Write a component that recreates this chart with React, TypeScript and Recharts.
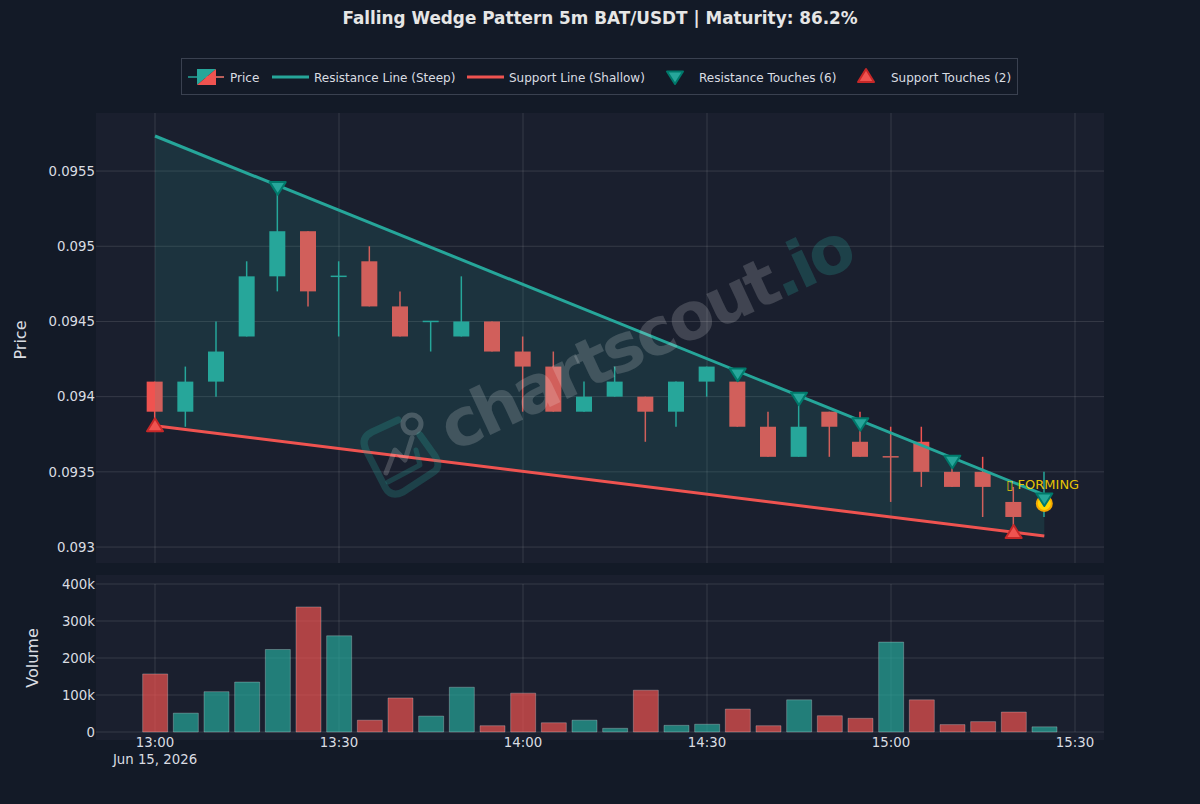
import React from 'react';
import { ComposedChart, Bar, Line, Area, Scatter, XAxis, YAxis, CartesianGrid, Cell, Label } from 'recharts';

const minutes = [0,5,10,15,20,25,30,35,40,45,50,55,60,65,70,75,80,85,90,95,100,105,110,115,120,125,130,135,140,145];
const opens = [0.0941,0.0939,0.0941,0.0944,0.0948,0.0951,0.0948,0.0949,0.0946,0.0945,0.0944,0.0945,0.0943,0.0942,0.0939,0.094,0.094,0.0939,0.0941,0.0941,0.0938,0.0936,0.0939,0.0937,0.0936,0.0937,0.0935,0.0935,0.0933,0.0933];
const highs = [0.0941,0.0942,0.0945,0.0949,0.0954,0.0951,0.0949,0.095,0.0947,0.0945,0.0948,0.0945,0.0944,0.0943,0.0941,0.0942,0.094,0.0941,0.0942,0.0941,0.0939,0.094,0.0939,0.0939,0.0938,0.0938,0.0936,0.0936,0.0934,0.0935];
const lows = [0.0938,0.0938,0.094,0.0944,0.0947,0.0946,0.0944,0.0946,0.0944,0.0943,0.0944,0.0943,0.0939,0.0939,0.0939,0.094,0.0937,0.0938,0.094,0.0938,0.0936,0.0936,0.0936,0.0936,0.0933,0.0934,0.0934,0.0932,0.0931,0.0932];
const closes = [0.0939,0.0941,0.0943,0.0948,0.0951,0.0947,0.0948,0.0946,0.0944,0.0945,0.0945,0.0943,0.0942,0.0939,0.094,0.0941,0.0939,0.0941,0.0942,0.0938,0.0936,0.0938,0.0938,0.0936,0.0936,0.0935,0.0934,0.0934,0.0932,0.0933];
const candleUp = [0,1,1,1,1,0,1,0,0,1,1,0,0,0,1,1,0,1,1,0,0,1,0,0,0,0,0,0,0,1];
const volumes = [157000,51000,109000,135000,223000,338000,260000,32000,92000,43000,121000,17000,105000,25000,32000,10000,113000,18000,21000,62000,17000,87000,44000,37000,243000,87000,20000,28000,54000,14000];
const volumeUp = [0,1,1,1,1,0,1,0,0,1,1,0,0,0,1,1,0,1,1,0,0,1,0,0,1,0,0,0,0,1];

const resistanceLine = [{ t: 0, price: 0.095733 }, { t: 145, price: 0.093347 }];
const supportLine = [{ t: 0, price: 0.093807 }, { t: 145, price: 0.093073 }];
const wedgeBand = [{ t: 0, band: [0.093807, 0.095733] }, { t: 145, band: [0.093073, 0.093347] }];
const resistanceTouches = [{ t: 20, price: 0.09539 }, { t: 95, price: 0.09415 }, { t: 105, price: 0.09399 }, { t: 115, price: 0.09382 }, { t: 130, price: 0.09357 }, { t: 145, price: 0.09332 }];
const supportTouches = [{ t: 0, price: 0.09381 }, { t: 140, price: 0.0931 }];
const formingPoint = [{ t: 145, price: 0.09329 }];

const priceTicks = [0.093, 0.0935, 0.094, 0.0945, 0.095, 0.0955];
const volumeTicks = [0, 100000, 200000, 300000, 400000];
const timeTicks = [0, 30, 60, 90, 120, 150];
const timeLabels = ['13:00', '13:30', '14:00', '14:30', '15:00', '15:30'];
const chartTitle = 'Falling Wedge Pattern 5m BAT/USDT | Maturity: 86.2%';
const dateLabel = 'Jun 15, 2026';
const formingLabel = '\u25AF FORMING';

const candles = minutes.map((t, i) => ({ t, open: opens[i], high: highs[i], low: lows[i], close: closes[i], up: candleUp[i] }));
const volumeRows = minutes.map((t, i) => ({ t, volume: volumes[i], up: volumeUp[i] }));

const TEAL = '#26a69a';
const RED = '#ef5350';
const FONT = '"DejaVu Sans", sans-serif';
const TEXT = '#dadde2';
const GRID = 'rgba(255,255,255,0.12)';
const X_DOMAIN: [number, number] = [-9.62, 154.73];

const CandleShape = (p: any) => {
  const { x, y, width, height, payload } = p;
  const k = height / (payload.high - payload.low);
  const top = y + (payload.high - Math.max(payload.open, payload.close)) * k;
  const bottom = y + (payload.high - Math.min(payload.open, payload.close)) * k;
  const c = payload.up ? TEAL : RED;
  const cx = x + width / 2;
  return (
    <g>
      <line x1={cx} x2={cx} y1={y} y2={y + height} stroke={c} strokeWidth={1.5} />
      {bottom - top < 0.5
        ? <line x1={x} x2={x + width} y1={top} y2={top} stroke={c} strokeWidth={1.5} />
        : <rect x={x} y={top} width={width} height={bottom - top} fill={c} />}
    </g>
  );
};

const DownMark = (p: any) => (
  <path d={`M${p.cx - 8},${p.cy - 5.5} L${p.cx + 8},${p.cy - 5.5} L${p.cx},${p.cy + 7} Z`} fill={TEAL} stroke="#00796b" strokeWidth={2} strokeLinejoin="round" />
);
const UpMark = (p: any) => (
  <path d={`M${p.cx - 8},${p.cy + 6} L${p.cx + 8},${p.cy + 6} L${p.cx},${p.cy - 7} Z`} fill={RED} stroke="#c62828" strokeWidth={2} strokeLinejoin="round" />
);
const FormingMark = (p: any) => (
  <g>
    <circle cx={p.cx} cy={p.cy} r={7.5} fill="#ffd700" stroke="#f5a800" strokeWidth={2} />
    <text x={p.cx - 38} y={p.cy - 14} fill="#ffd700" fillOpacity={0.9} fontSize={13} fontFamily={FONT}>{formingLabel}</text>
  </g>
);

const trimPrice = (v: number) => String(Number(v.toFixed(4)));
const volFmt = (v: number) => (v === 0 ? '0' : `${v / 1000}k`);

const TimeTick = (p: any) => {
  const idx = timeTicks.indexOf(p.payload.value);
  return (
    <g>
      <text x={p.x} y={747} textAnchor="middle" fontSize={13.3} fontFamily={FONT} fill={TEXT}>{timeLabels[idx]}</text>
      {idx === 0 && <text x={p.x} y={764} textAnchor="middle" fontSize={13.3} fontFamily={FONT} fill={TEXT}>{dateLabel}</text>}
    </g>
  );
};

const LegendBox = () => {
  const ts = { fontSize: 12, fontFamily: FONT, fill: TEXT };
  return (
    <svg width={1200} height={110} style={{ position: 'absolute', left: 0, top: 0 }}>
      <rect x={181.5} y={58.5} width={836} height={36} fill="none" stroke="#3a4150" />
      <line x1={188} x2={224} y1={77} y2={77} stroke={TEAL} strokeWidth={1.5} />
      <line x1={206} x2={224} y1={77} y2={77} stroke={RED} strokeWidth={1.5} />
      <path d="M197,69 H216 L197,85 Z" fill={TEAL} />
      <path d="M216,69 V85 H197 Z" fill={RED} />
      <text x={230} y={82} {...ts}>Price</text>
      <line x1={272} x2={309} y1={77} y2={77} stroke={TEAL} strokeWidth={3} />
      <text x={314} y={82} {...ts}>Resistance Line (Steep)</text>
      <line x1={467} x2={504} y1={77} y2={77} stroke={RED} strokeWidth={3} />
      <text x={509} y={82} {...ts}>Support Line (Shallow)</text>
      <DownMark cx={675} cy={77} />
      <text x={699} y={82} {...ts}>Resistance Touches (6)</text>
      <UpMark cx={866} cy={76} />
      <text x={891} y={82} {...ts}>Support Touches (2)</text>
    </svg>
  );
};

const Watermark = () => (
  <svg width={1200} height={804} style={{ position: 'absolute', left: 0, top: 0, pointerEvents: 'none' }}>
    <g transform="rotate(-25 655 358)">
      <text x={655} y={358} textAnchor="middle" fontFamily={FONT} fontWeight={700} fontSize={66} letterSpacing={-3.4}>
        <tspan fill="rgba(255,255,255,0.17)">chartscout</tspan>
        <tspan fill="rgba(38,166,154,0.25)">.io</tspan>
      </text>
    </g>
    <g fill="none" strokeLinecap="round" strokeLinejoin="round">
      <path d="M398,420 L372,432 Q360,438 366,450 L385,487 Q391,498 403,492 L432,473 Q442,468 435,456 L420,435" stroke="rgba(38,166,154,0.25)" strokeWidth={7} />
      <circle cx={412} cy={424} r={9} stroke="rgba(255,255,255,0.2)" strokeWidth={5} />
      <path d="M386,473 L395,450 L405,460 L412,438" stroke="rgba(255,255,255,0.18)" strokeWidth={5} />
      <path d="M388,482 L420,465 L416,450" stroke="rgba(38,166,154,0.25)" strokeWidth={5} />
    </g>
  </svg>
);

const panel = (top: number, height: number) => (
  <div style={{ position: 'absolute', left: 96, top, width: 1008, height, background: '#1a1f2e' }} />
);

export default function App() {
  return (
    <div style={{ position: 'absolute', left: 0, top: 0, width: 1200, height: 804, background: '#131a27', overflow: 'hidden' }}>
      {panel(113, 450)}
      {panel(575, 165)}
      <div style={{ position: 'absolute', left: 0, top: 8, width: 1200, textAlign: 'center', fontFamily: FONT, fontWeight: 700, fontSize: 16.83, color: '#e6e6e6', lineHeight: '20px' }}>{chartTitle}</div>
      <LegendBox />
      <div style={{ position: 'absolute', left: 0, top: 0 }}>
        <ComposedChart width={1200} height={575} data={candles} margin={{ top: 113, right: 96, bottom: 12, left: 0 }}>
          <CartesianGrid stroke={GRID} syncWithTicks />
          <XAxis type="number" dataKey="t" domain={X_DOMAIN} ticks={timeTicks} hide allowDataOverflow />
          <YAxis type="number" dataKey="price" domain={[0.092894, 0.095886]} ticks={priceTicks} width={96} axisLine={false} tickLine={false} tickSize={0} tickFormatter={trimPrice} tick={{ fill: TEXT, fontSize: 13.3, fontFamily: FONT }} tickMargin={1} allowDataOverflow>
            <Label value="Price" angle={-90} position="insideLeft" offset={20} dy={2} style={{ fill: TEXT, fontSize: 16, fontFamily: FONT, textAnchor: 'middle' }} />
          </YAxis>
          <Bar dataKey={(d: any) => [d.low, d.high]} barSize={16} shape={CandleShape} isAnimationActive={false} zIndex={200} />
          <Area data={wedgeBand} dataKey="band" type="linear" fill={TEAL} fillOpacity={0.15} stroke="none" isAnimationActive={false} zIndex={300} />
          <Line data={resistanceLine} dataKey="price" type="linear" stroke={TEAL} strokeWidth={3} dot={false} isAnimationActive={false} zIndex={400} />
          <Line data={supportLine} dataKey="price" type="linear" stroke={RED} strokeWidth={3} dot={false} isAnimationActive={false} zIndex={400} />
          <Scatter data={formingPoint} dataKey="price" shape={FormingMark} isAnimationActive={false} zIndex={500} />
          <Scatter data={resistanceTouches} dataKey="price" shape={DownMark} isAnimationActive={false} zIndex={600} />
          <Scatter data={supportTouches} dataKey="price" shape={UpMark} isAnimationActive={false} zIndex={600} />
        </ComposedChart>
      </div>
      <div style={{ position: 'absolute', left: 0, top: 0 }}>
        <ComposedChart width={1200} height={804} data={volumeRows} margin={{ top: 584, right: 96, bottom: 32, left: 0 }}>
          <CartesianGrid stroke={GRID} syncWithTicks />
          <XAxis type="number" dataKey="t" domain={X_DOMAIN} ticks={timeTicks} height={40} axisLine={false} tickLine={false} tick={TimeTick} interval={0} allowDataOverflow />
          <YAxis type="number" domain={[0, 400000]} ticks={volumeTicks} width={96} axisLine={false} tickLine={false} tickSize={0} tickFormatter={volFmt} tick={{ fill: TEXT, fontSize: 13.3, fontFamily: FONT }} tickMargin={1}>
            <Label value="Volume" angle={-90} position="insideLeft" offset={32} style={{ fill: TEXT, fontSize: 16, fontFamily: FONT, textAnchor: 'middle' }} />
          </YAxis>
          <Bar dataKey="volume" barSize={25} stroke="rgba(255,255,255,0.25)" isAnimationActive={false}>
            {volumeRows.map((r, i) => <Cell key={i} fill={r.up ? 'rgba(38,166,154,0.7)' : 'rgba(239,83,80,0.7)'} />)}
          </Bar>
        </ComposedChart>
      </div>
      <Watermark />
    </div>
  );
}
